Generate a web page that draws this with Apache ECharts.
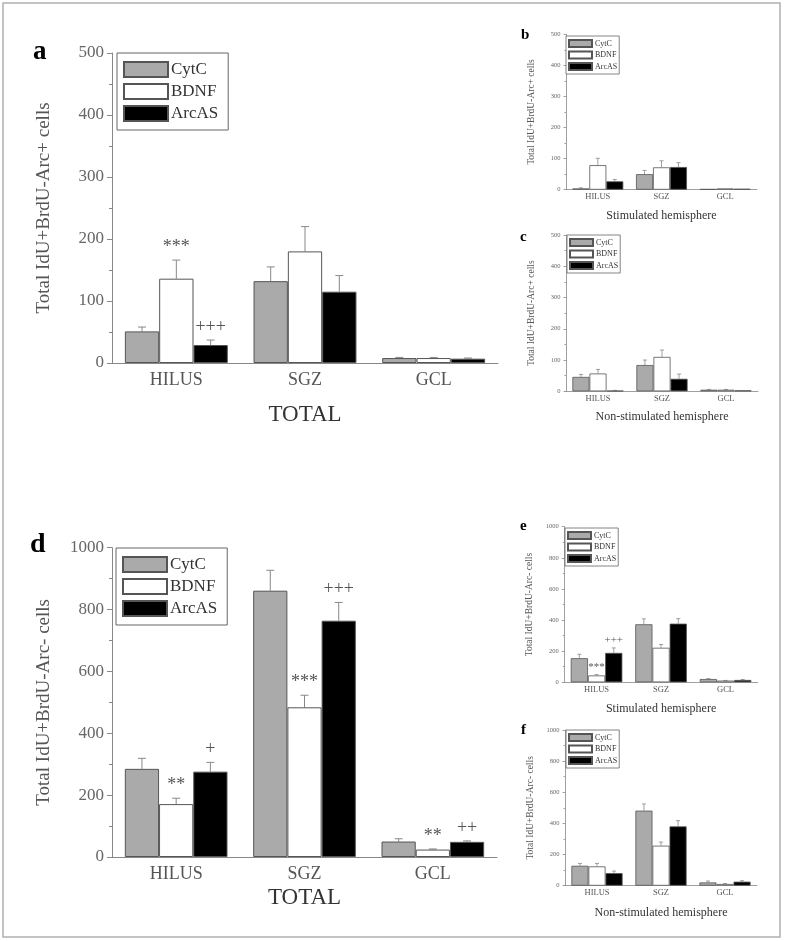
<!DOCTYPE html>
<html><head><meta charset="utf-8">
<script src="https://cdn.jsdelivr.net/npm/echarts@6/dist/echarts.min.js"></script>
<style>html,body{margin:0;padding:0;background:#fff}#c{width:787px;height:941px}</style>
</head><body><div id="c"></div>
<script>
// ---------- DATA ----------
const categories = ['HILUS', 'SGZ', 'GCL'];
const groups = ['CytC', 'BDNF', 'ArcAS'];
const yTitlePlus = 'Total IdU+BrdU-Arc+ cells';
const yTitleMinus = 'Total IdU+BrdU-Arc- cells';

// a: TOTAL, Arc+
const a_CytC = [51, 132, 8];   const a_CytC_sem = [7, 23, 1];
const a_BDNF = [136, 180, 8];  const a_BDNF_sem = [30, 40, 1];
const a_ArcAS = [29, 115, 7];  const a_ArcAS_sem = [8, 26, 1];
const a_BDNF_sig = ['***', '', ''];
const a_ArcAS_sig = ['+++', '', ''];

// b: Stimulated hemisphere, Arc+
const b_CytC = [4, 50, 2];     const b_CytC_sem = [2, 12, 0];
const b_BDNF = [79, 72, 4];    const b_BDNF_sem = [22, 21, 0];
const b_ArcAS = [27, 73, 3];   const b_ArcAS_sem = [6, 14, 0];

// c: Non-stimulated hemisphere, Arc+
const c_CytC = [46, 84, 5];    const c_CytC_sem = [8, 16, 1];
const c_BDNF = [57, 110, 5];   const c_BDNF_sem = [13, 22, 1];
const c_ArcAS = [2, 40, 3];    const c_ArcAS_sem = [1, 15, 0];

// d: TOTAL, Arc-
const d_CytC = [285, 861, 50]; const d_CytC_sem = [34, 66, 9];
const d_BDNF = [171, 484, 24]; const d_BDNF_sem = [19, 39, 2];
const d_ArcAS = [276, 764, 49]; const d_ArcAS_sem = [30, 59, 3];
const d_BDNF_sig = ['**', '***', '**'];
const d_ArcAS_sig = ['+', '+++', '++'];

// e: Stimulated hemisphere, Arc-
const e_CytC = [155, 373, 21]; const e_CytC_sem = [25, 35, 3];
const e_BDNF = [44, 222, 11];  const e_BDNF_sem = [6, 21, 1];
const e_ArcAS = [189, 377, 15]; const e_ArcAS_sem = [32, 32, 3];
const e_BDNF_sig = ['***', '', ''];
const e_ArcAS_sig = ['+++', '', ''];

// f: Non-stimulated hemisphere, Arc-
const f_CytC = [128, 482, 21]; const f_CytC_sem = [15, 43, 9];
const f_BDNF = [124, 257, 11]; const f_BDNF_sem = [19, 23, 3];
const f_ArcAS = [81, 381, 26]; const f_ArcAS_sem = [13, 37, 6];

// ---------- STYLE / LAYOUT ----------
const FONT = 'Liberation Serif';
const fills = ['#aaaaaa', '#ffffff', '#000000'];
const GAP = 0.2;
const big = {tick: 17, cat: 18, yname: 19, xname: 23, leg: 17, ann: 18, cap: 4, tickLen: 5, minorLen: 3,
  yGap: 58, catMargin: 8, legW: 44, legH: 15, legGap: 5, legPad: [8, 10, 8, 6], annOff: 4, lw: 1};
const small = {tick: 6.5, cat: 8.5, yname: 9.5, xname: 12, leg: 8, ann: 11, cap: 2, tickLen: 2.5, minorLen: 1.5,
  yGap: 30, catMargin: 3, legW: 23, legH: 7, legGap: 2.5, legPad: [3, 2, 3, 2], annOff: 2, lw: 0.8};

const panels = [
  {id: 'a', st: big, max: 500, interval: 100, yname: yTitlePlus, xname: 'TOTAL', xGap: 40,
   vals: [a_CytC, a_BDNF, a_ArcAS], sem: [a_CytC_sem, a_BDNF_sem, a_ArcAS_sem], sig: [null, a_BDNF_sig, a_ArcAS_sig],
   grid: {left: 112, top: 53, width: 386, height: 310}, legend: {left: 117, top: 53}, letter: [33, 52, 27]},
  {id: 'b', st: small, max: 500, interval: 100, yname: yTitlePlus, xname: 'Stimulated hemisphere', xGap: 20,
   vals: [b_CytC, b_BDNF, b_ArcAS], sem: [b_CytC_sem, b_BDNF_sem, b_ArcAS_sem], sig: [null, null, null],
   grid: {left: 566, top: 34.3, width: 191, height: 155.4}, legend: {left: 566, top: 36}, letter: [521, 35, 15]},
  {id: 'c', st: small, max: 500, interval: 100, yname: yTitlePlus, xname: 'Non-stimulated hemisphere', xGap: 20,
   vals: [c_CytC, c_BDNF, c_ArcAS], sem: [c_CytC_sem, c_BDNF_sem, c_ArcAS_sem], sig: [null, null, null],
   grid: {left: 566, top: 235, width: 192, height: 156.3}, legend: {left: 567, top: 235}, letter: [520, 237, 15]},
  {id: 'd', st: big, max: 1000, interval: 200, yname: yTitleMinus, xname: 'TOTAL', xGap: 29,
   vals: [d_CytC, d_BDNF, d_ArcAS], sem: [d_CytC_sem, d_BDNF_sem, d_ArcAS_sem], sig: [null, d_BDNF_sig, d_ArcAS_sig],
   grid: {left: 112, top: 547.7, width: 385, height: 309.3}, legend: {left: 116, top: 548}, letter: [30, 545, 28]},
  {id: 'e', st: small, max: 1000, interval: 200, yname: yTitleMinus, xname: 'Stimulated hemisphere', xGap: 21,
   vals: [e_CytC, e_BDNF, e_ArcAS], sem: [e_CytC_sem, e_BDNF_sem, e_ArcAS_sem], sig: [null, e_BDNF_sig, e_ArcAS_sig],
   grid: {left: 564.3, top: 526.7, width: 193.5, height: 155.6}, legend: {left: 565, top: 528}, letter: [520, 526, 15]},
  {id: 'f', st: small, max: 1000, interval: 200, yname: yTitleMinus, xname: 'Non-stimulated hemisphere', xGap: 21,
   vals: [f_CytC, f_BDNF, f_ArcAS], sem: [f_CytC_sem, f_BDNF_sem, f_ArcAS_sem], sig: [null, null, null],
   grid: {left: 565, top: 730, width: 192, height: 155.7}, legend: {left: 566, top: 730}, letter: [521, 730, 15]}
];

function errRender(gi, cap, lw) {
  return function (params, api) {
    const cat = api.value(0), v = api.value(1), s = api.value(2);
    if (!(s > 0)) return null;
    const base = api.coord([cat, v]);
    const top = api.coord([cat, v + s]);
    const band = api.size([1, 0])[0];
    const bw = band * (1 - GAP) / 3;
    const x = base[0] + (gi - 1) * bw;
    return {type: 'group', children: [
      {type: 'line', shape: {x1: x, y1: base[1], x2: x, y2: top[1]}, style: {stroke: '#888', lineWidth: lw}},
      {type: 'line', shape: {x1: x - cap, y1: top[1], x2: x + cap, y2: top[1]}, style: {stroke: '#888', lineWidth: lw}}
    ]};
  };
}
const sigLookup = {};
function annRender(gi, st) {
  return function (params, api) {
    const cat = api.value(0), y = api.value(1);
    const txt = sigLookup[params.seriesId][params.dataIndex];
    const p = api.coord([cat, y]);
    const band = api.size([1, 0])[0];
    const bw = band * (1 - GAP) / 3;
    const x = p[0] + (gi - 1) * bw;
    return {type: 'text', x: x, y: p[1] - st.annOff,
      style: {text: txt, font: st.ann + 'px "' + FONT + '"', fill: '#555', align: 'center', verticalAlign: 'bottom'}};
  };
}

const option = {
  animation: false,
  backgroundColor: '#fff',
  grid: [], xAxis: [], yAxis: [], legend: [], series: [],
  graphic: [{type: 'rect', shape: {x: 3, y: 3, width: 777, height: 934},
    style: {fill: 'none', stroke: '#b0b0b0', lineWidth: 1.5}, silent: true}]
};

panels.forEach((p, k) => {
  const st = p.st;
  option.grid.push(Object.assign({outerBoundsMode: 'none', containLabel: false}, p.grid));
  option.xAxis.push({type: 'category', gridIndex: k, data: categories,
    axisTick: {show: false},
    axisLine: {show: true, lineStyle: {color: '#888', width: st.lw}},
    axisLabel: {fontFamily: FONT, fontSize: st.cat, color: '#555', margin: st.catMargin},
    name: p.xname, nameLocation: 'middle', nameGap: p.xGap,
    nameTextStyle: {fontFamily: FONT, fontSize: st.xname, color: '#333', verticalAlign: 'top'}});
  option.yAxis.push({type: 'value', gridIndex: k, min: 0, max: p.max, interval: p.interval,
    splitLine: {show: false},
    axisLine: {show: true, lineStyle: {color: '#888', width: st.lw}},
    axisTick: {show: true, inside: false, length: st.tickLen, lineStyle: {color: '#888', width: st.lw}},
    minorTick: {show: true, splitNumber: 2, length: st.minorLen, lineStyle: {color: '#888', width: st.lw}},
    axisLabel: {fontFamily: FONT, fontSize: st.tick, color: '#666', margin: st.tickLen + 3,
      formatter: v => String(v)},
    name: p.yname, nameLocation: 'middle', nameGap: st.yGap,
    nameTextStyle: {fontFamily: FONT, fontSize: st.yname, color: '#555'}});
  option.legend.push({left: p.legend.left, top: p.legend.top, orient: 'vertical', data: groups,
    selectedMode: false, icon: 'rect', itemWidth: st.legW, itemHeight: st.legH, itemGap: st.legGap,
    padding: st.legPad, borderColor: '#666', borderWidth: st.lw, backgroundColor: '#fff',
    textStyle: {fontFamily: FONT, fontSize: st.leg, color: '#333', padding: [0, 0, 0, -2]}});
  groups.forEach((g, gi) => {
    option.series.push({type: 'bar', name: g, xAxisIndex: k, yAxisIndex: k,
      data: p.vals[gi], barGap: '0%', barCategoryGap: (GAP * 100) + '%',
      itemStyle: {color: fills[gi], borderColor: '#555', borderWidth: st.lw}, z: 3});
    option.series.push({type: 'custom', name: 'err-' + p.id + gi, xAxisIndex: k, yAxisIndex: k,
      renderItem: errRender(gi, st.cap, st.lw), z: 2,
      data: p.vals[gi].map((v, i) => [i, v, p.sem[gi][i]])});
    if (p.sig[gi]) {
      const sid = 'sig-' + p.id + gi;
      const idx = [];
      p.sig[gi].forEach((t, i) => { if (t) idx.push(i); });
      sigLookup[sid] = idx.map(i => p.sig[gi][i]);
      option.series.push({type: 'custom', id: sid, name: sid, xAxisIndex: k, yAxisIndex: k,
        renderItem: annRender(gi, st), z: 4,
        data: idx.map(i => [i, p.vals[gi][i] + p.sem[gi][i]])});
    }
  });
  option.graphic.push({type: 'text', x: p.letter[0], y: p.letter[1],
    style: {text: p.id, font: 'bold ' + p.letter[2] + 'px "' + FONT + '"', fill: '#000', verticalAlign: 'middle'}});
});

const chart = echarts.init(document.getElementById('c'), null, {renderer: 'canvas'});
chart.setOption(option);
</script></body></html>
